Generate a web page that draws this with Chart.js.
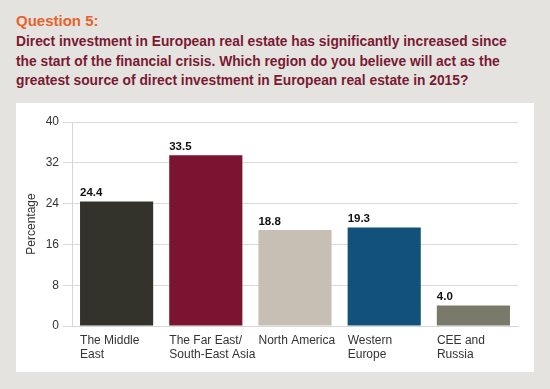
<!DOCTYPE html>
<html>
<head>
<meta charset="utf-8">
<script src="https://cdn.jsdelivr.net/npm/chart.js@4"></script>
<style>
  body { margin: 0; width: 550px; height: 389px; background: #e5e3df; font-family: "Liberation Sans", Arial, sans-serif; position: relative; overflow: hidden; }
  #q { position: absolute; left: 16px; top: 12px; color: #e8622a; font-weight: bold; font-size: 15px; }
  #t { position: absolute; left: 16px; top: 32px; color: #7a1a33; font-weight: bold; font-size: 13.8px; line-height: 19.5px; width: 530px; }
  #panel { position: absolute; left: 16px; top: 103px; width: 518px; height: 269px; background: #fff; }
</style>
</head>
<body>
<div id="q">Question 5:</div>
<div id="t">Direct investment in European real estate has significantly increased since<br>the start of the financial crisis. Which region do you believe will act as the<br>greatest source of direct investment in European real estate in 2015?</div>
<div id="panel"><canvas id="grafico" width="518" height="269"></canvas></div>
<script>
// Datos
const regiones = [['The Middle', 'East'], ['The Far East/', 'South-East Asia'], ['North America'], ['Western', 'Europe'], ['CEE and', 'Russia']];
const porcentajes = [24.4, 33.5, 18.8, 19.3, 4.0];
const colores = ['#33332b', '#7b1430', '#c8bfb4', '#12527a', '#7a7a6b'];
const ticksY = [0, 8, 16, 24, 32, 40];

// Etiquetas de valor encima de cada barra
const etiquetasValor = {
    id: 'etiquetasValor',
    afterDatasetsDraw(chart) {
        const ctx = chart.ctx;
        const meta = chart.getDatasetMeta(0);
        ctx.save();
        ctx.font = 'bold 11.5px "Liberation Sans", Arial, sans-serif';
        ctx.fillStyle = '#111';
        ctx.textAlign = 'left';
        ctx.textBaseline = 'bottom';
        meta.data.forEach((bar, i) => {
            ctx.fillText(porcentajes[i].toFixed(1), bar.x - bar.width / 2, bar.y - 3);
        });
        ctx.restore();
    }
};

new Chart(document.getElementById('grafico').getContext('2d'), {
    type: 'bar',
    data: {
        labels: regiones,
        datasets: [{
            data: porcentajes,
            backgroundColor: colores,
            categoryPercentage: 0.82,
            barPercentage: 1
        }]
    },
    options: {
        responsive: false,
        animation: false,
        layout: { padding: { top: 19, right: 16, left: 0, bottom: 0 } },
        plugins: { legend: { display: false }, tooltip: { enabled: false } },
        scales: {
            x: {
                grid: { display: false },
                border: { color: '#d6d6d6' },
                ticks: {
                    align: 'start',
                    labelOffset: -36.5,
                    padding: 0,
                    maxRotation: 0,
                    minRotation: 0,
                    autoSkip: false,
                    color: '#333',
                    font: { size: 12, family: '"Liberation Sans", Arial, sans-serif', lineHeight: 1.15 }
                },
                afterFit(scale) { scale.height = 46; }
            },
            y: {
                min: 0,
                max: 40,
                afterBuildTicks(scale) { scale.ticks = ticksY.map(v => ({ value: v })); },
                grid: { color: '#dadada', tickLength: 9 },
                border: { color: '#d6d6d6' },
                ticks: {
                    padding: 4,
                    color: '#333',
                    font: { size: 12, family: '"Liberation Sans", Arial, sans-serif' }
                },
                title: {
                    display: true,
                    text: 'Percentage',
                    color: '#333',
                    padding: { top: 8, bottom: 0 },
                    font: { size: 12, family: '"Liberation Sans", Arial, sans-serif' }
                },
                afterFit(scale) { scale.width = 56; }
            }
        }
    },
    plugins: [etiquetasValor]
});
</script>
</body>
</html>
